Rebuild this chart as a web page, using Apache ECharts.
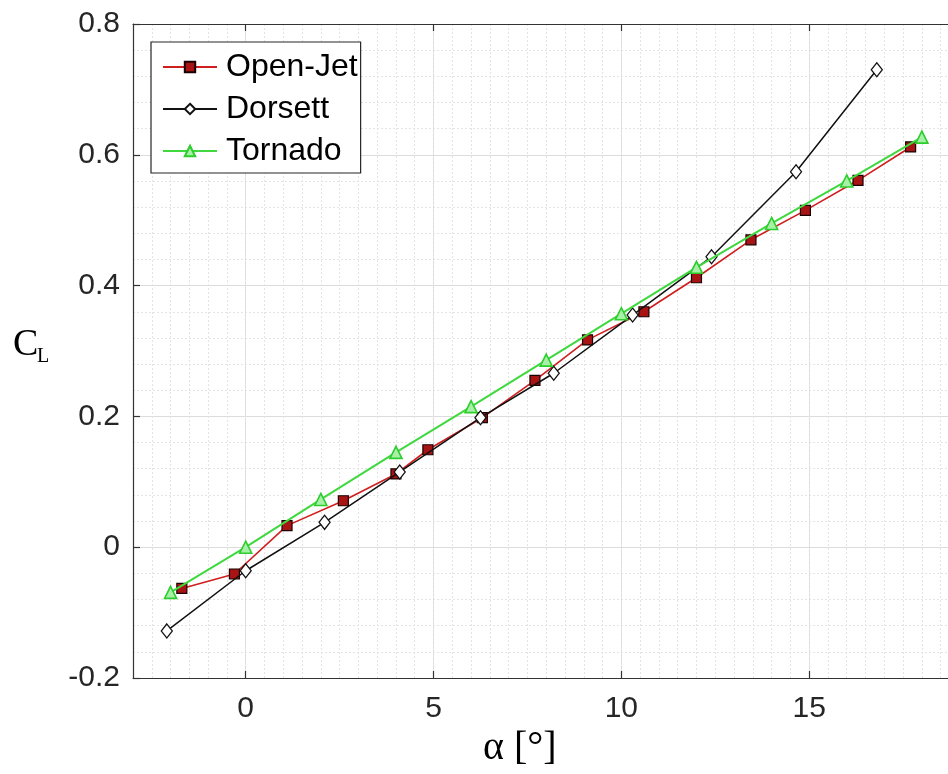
<!DOCTYPE html>
<html>
<head>
<meta charset="utf-8">
<script src="https://cdn.jsdelivr.net/npm/echarts@6/dist/echarts.min.js"></script>
<style>
html,body{margin:0;padding:0;background:#fff;}
#chart{width:948px;height:774px;}
</style>
</head>
<body>
<div id="chart"></div>
<script>
// ---- data ----
const seriesNames = ['Open-Jet', 'Dorsett', 'Tornado'];
const openJetX = [-1.7, -0.3, 1.1, 2.6, 4.0, 4.85, 6.3, 7.7, 9.1, 10.6, 12.0, 13.45, 14.9, 16.3, 17.7];
const openJetY = [-0.063, -0.041, 0.033, 0.071, 0.112, 0.149, 0.198, 0.255, 0.317, 0.360, 0.412, 0.470, 0.515, 0.561, 0.612];
const dorsettX = [-2.1, 0.0, 2.1, 4.1, 6.25, 8.2, 10.3, 12.4, 14.65, 16.8];
const dorsettY = [-0.128, -0.036, 0.038, 0.115, 0.198, 0.266, 0.355, 0.444, 0.574, 0.730];
const tornadoX = [-2, 0, 2, 4, 6, 8, 10, 12, 14, 16, 18];
const tornadoY = [-0.069, 0.0, 0.073, 0.145, 0.215, 0.286, 0.357, 0.428, 0.495, 0.560, 0.627];
const xTicks = [0, 5, 10, 15, 20];
const xMin = -3, xMax = 20;
const yMin = -0.2, yMax = 0.8, yStep = 0.2;
const xLabelText = 'α [°]';
const yLabelMain = 'C';
const yLabelSub = 'L';

const zip = (xs, ys) => xs.map((x, i) => [x, ys[i]]);

const axisColor = '#333333';
const labelColor = '#262626';
const majorGrid = '#dcdcdc';
const minorGrid = '#e4e4e4';

const chart = echarts.init(document.getElementById('chart'), null, {renderer: 'canvas'});
chart.setOption({
  backgroundColor: '#ffffff',
  animation: false,
  grid: {left: 133, top: 24, bottom: 96, right: -49, containLabel: false, outerBoundsMode: 'none'},
  legend: {
    show: true,
    data: seriesNames,
    orient: 'vertical',
    left: 151,
    top: 42,
    backgroundColor: '#ffffff',
    borderColor: '#262626',
    borderWidth: 1.2,
    borderRadius: 0,
    padding: [8, 3, 5, 11],
    itemWidth: 54,
    itemHeight: 13,
    itemGap: 8,
    textStyle: {fontFamily: 'Liberation Sans, Arial, sans-serif', fontSize: 32, color: '#000', lineHeight: 34, padding: [0, 0, 0, 4]}
  },
  xAxis: [
    {
      type: 'value', position: 'bottom', min: xMin, max: xMax, interval: 0.5,
      axisLine: {show: true, onZero: false, lineStyle: {color: axisColor, width: 1.2}},
      axisTick: {show: true, inside: true, length: 7, customValues: xTicks, lineStyle: {color: axisColor, width: 1.2}},
      axisLabel: {show: true, customValues: xTicks, margin: 16, fontFamily: 'Liberation Sans, Arial, sans-serif', fontSize: 30, color: labelColor},
      splitLine: {show: true, lineStyle: {color: majorGrid, width: 1}}
    },
    {
      type: 'value', position: 'top', min: xMin, max: xMax, interval: 0.5,
      axisLine: {show: true, onZero: false, lineStyle: {color: axisColor, width: 1.2}},
      axisTick: {show: true, inside: true, length: 7, customValues: xTicks, lineStyle: {color: axisColor, width: 1.2}},
      axisLabel: {show: false},
      splitLine: {show: false}
    },
    {
      type: 'value', position: 'bottom', min: xMin, max: xMax, interval: 0.5,
      axisLine: {show: false}, axisTick: {show: false}, axisLabel: {show: false},
      splitLine: {show: true, lineStyle: {color: minorGrid, width: 1, type: [2, 2]}}
    }
  ],
  yAxis: [
    {
      type: 'value', position: 'left', min: yMin, max: yMax, interval: yStep,
      axisLine: {show: true, onZero: false, lineStyle: {color: axisColor, width: 1.2}},
      axisTick: {show: true, inside: true, length: 7, lineStyle: {color: axisColor, width: 1.2}},
      axisLabel: {show: true, margin: 13, fontFamily: 'Liberation Sans, Arial, sans-serif', fontSize: 30, color: labelColor},
      splitLine: {show: true, lineStyle: {color: majorGrid, width: 1}},
      minorTick: {show: false, splitNumber: 5},
      minorSplitLine: {show: true, lineStyle: {color: minorGrid, width: 1, type: [2, 2]}}
    }
  ],
  graphic: [
    {type: 'text', left: 13, top: 326, z: 10, style: {text: yLabelMain, font: '38px "Liberation Serif", "Times New Roman", serif', fill: '#000'}},
    {type: 'text', left: 37, top: 347, z: 10, style: {text: yLabelSub, font: '20px "Liberation Serif", "Times New Roman", serif', fill: '#000'}},
    {type: 'text', left: 483, top: 728, z: 10, style: {text: xLabelText, font: '40px "Liberation Serif", "Times New Roman", serif', fill: '#000'}}
  ],
  series: [
    {
      name: seriesNames[0], type: 'line', xAxisIndex: 0, yAxisIndex: 0,
      data: zip(openJetX, openJetY), z: 3,
      symbol: 'rect', symbolSize: 10,
      lineStyle: {color: '#d01e1e', width: 1.6},
      itemStyle: {color: '#a81414', borderColor: '#1a0000', borderWidth: 1.2}
    },
    {
      name: seriesNames[1], type: 'line', xAxisIndex: 0, yAxisIndex: 0,
      data: zip(dorsettX, dorsettY), z: 4,
      symbol: 'diamond', symbolSize: [11, 14],
      lineStyle: {color: '#111111', width: 1.5},
      itemStyle: {color: '#ffffff', borderColor: '#111111', borderWidth: 1.3}
    },
    {
      name: seriesNames[2], type: 'line', xAxisIndex: 0, yAxisIndex: 0,
      data: zip(tornadoX, tornadoY), z: 5,
      symbol: 'triangle', symbolSize: 12,
      lineStyle: {color: '#3fd83f', width: 2},
      itemStyle: {color: '#a8f0a8', borderColor: '#2ccd2c', borderWidth: 1.6}
    }
  ]
});
</script>
</body>
</html>
